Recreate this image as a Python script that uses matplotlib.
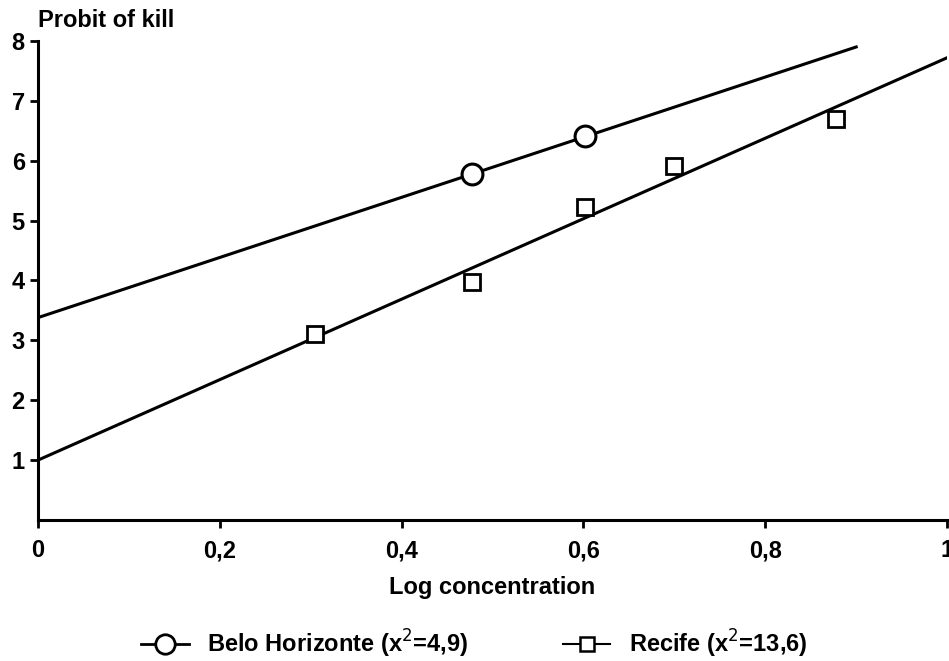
import matplotlib.pyplot as plt
from matplotlib.lines import Line2D

plt.rcParams["font.family"] = ["Liberation Sans", "DejaVu Sans"]

# observed points
bh_log_conc = [0.477, 0.602]
bh_probit = [5.78, 6.42]

recife_log_conc = [0.305, 0.477, 0.602, 0.700, 0.878]
recife_probit = [3.10, 3.97, 5.23, 5.92, 6.70]

# fitted regression lines (end points)
bh_fit_x = [0.0, 0.90]
bh_fit_y = [3.38, 7.90]
recife_fit_x = [0.0, 1.0]
recife_fit_y = [1.0, 7.72]

x_ticks = [0, 0.2, 0.4, 0.6, 0.8, 1.0]
x_tick_labels = ["0", "0,2", "0,4", "0,6", "0,8", "1"]
y_ticks = [1, 2, 3, 4, 5, 6, 7, 8]

bh_label = r"Belo Horizonte (x$^{2}$=4,9)"
recife_label = r"Recife (x$^{2}$=13,6)"

fig = plt.figure(figsize=(9.49, 6.61), dpi=100)
ax = fig.add_axes([0.040, 0.2133, 0.958, 0.7247])

ax.plot(bh_fit_x, bh_fit_y, color="black", linewidth=2.2)
ax.plot(recife_fit_x, recife_fit_y, color="black", linewidth=2.2)

ax.plot(
    bh_log_conc,
    bh_probit,
    linestyle="none",
    marker="o",
    markersize=15,
    markerfacecolor="white",
    markeredgecolor="black",
    markeredgewidth=2.2,
)
ax.plot(
    recife_log_conc,
    recife_probit,
    linestyle="none",
    marker="s",
    markersize=11,
    markerfacecolor="white",
    markeredgecolor="black",
    markeredgewidth=2,
)

ax.set_xlim(0, 1.0)
ax.set_ylim(0, 8)
ax.set_xticks(x_ticks)
ax.set_xticklabels(x_tick_labels)
ax.set_yticks(y_ticks)

for side in ["top", "right"]:
    ax.spines[side].set_visible(False)
for side in ["left", "bottom"]:
    ax.spines[side].set_linewidth(2.2)

ax.tick_params(
    axis="both",
    direction="out",
    length=6,
    width=2,
    labelsize=17,
)
ax.tick_params(axis="x", pad=8)
for label in ax.get_xticklabels() + ax.get_yticklabels():
    label.set_fontweight("bold")

ax.set_xlabel(
    "Log concentration",
    fontsize=17,
    fontweight="bold",
    labelpad=10,
)
fig.text(
    0.04,
    0.952,
    "Probit of kill",
    fontsize=17,
    fontweight="bold",
    ha="left",
    va="bottom",
)

handles = [
    Line2D(
        [0], [0],
        color="black",
        linewidth=2,
        marker="o",
        markersize=14,
        markerfacecolor="white",
        markeredgecolor="black",
        markeredgewidth=2,
    ),
    Line2D(
        [0], [0],
        color="black",
        linewidth=1.5,
        marker="s",
        markersize=10,
        markerfacecolor="white",
        markeredgecolor="black",
        markeredgewidth=1.8,
    ),
]
fig.legend(
    handles,
    [bh_label, recife_label],
    loc="lower center",
    bbox_to_anchor=(0.5, -0.03),
    ncol=2,
    frameon=False,
    prop={"size": 17, "weight": "bold"},
    handlelength=2.0,
    columnspacing=4,
)

fig.savefig("out.png", dpi=100)
